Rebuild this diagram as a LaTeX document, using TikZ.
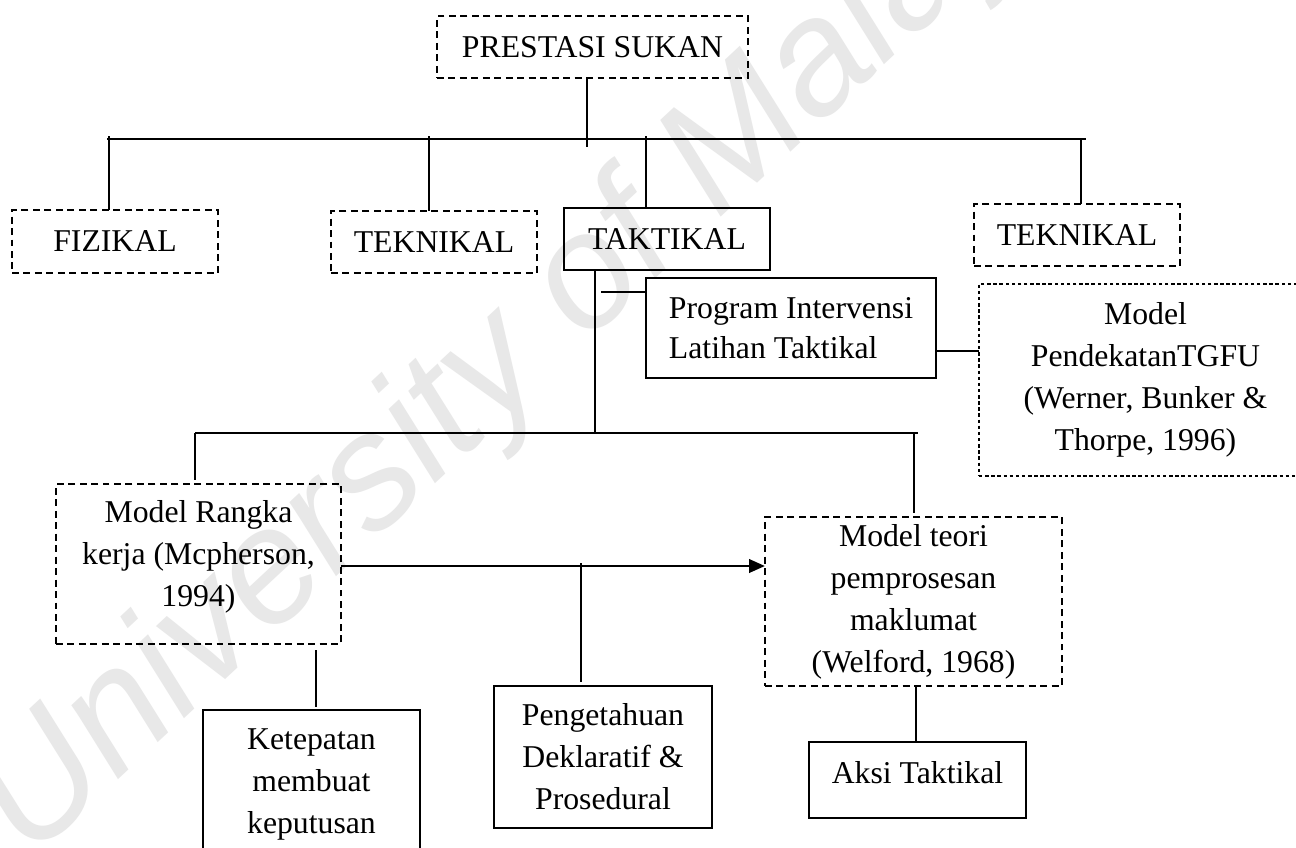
\documentclass[tikz,border=0pt]{standalone}
\usepackage{fontspec}
\setmainfont{Liberation Serif}
\setsansfont{Liberation Sans}
\usetikzlibrary{arrows.meta}

\tikzset{
  every node/.style={font=\fontsize{23.8pt}{31.5pt}\selectfont},
  sz/.style 2 args={minimum width=#1*0.75pt, minimum height=#2*0.75pt},
  boxbase/.style={inner sep=0pt, outer sep=0pt, align=center},
  dbox/.style={boxbase, draw, line width=1.4pt, dash pattern=on 5.2pt off 3.4pt},
  fbox/.style={boxbase, draw, line width=0.9pt, dash pattern=on 2.6pt off 2pt},
  sbox/.style={boxbase, draw, line width=1.4pt},
  link/.style={line width=1.1pt},
  bus/.style={line width=1.5pt},
  flow/.style={line width=2.2pt, -{Triangle[length=12pt,width=10pt]}},
  wmtext/.style={text=black!9, font=\fontsize{122pt}{122pt}\selectfont\sffamily\itshape}
}

\begin{document}
\begin{tikzpicture}[x=0.75pt,y=-0.75pt]
\useasboundingbox (0,0) rectangle (1296,847);
\clip (0,0) rectangle (1296,847);
\fill[white] (0,0) rectangle (1296,847);

% watermark
\node[wmtext, rotate=43, anchor=base west, inner sep=0pt] (wm) at (30,862) {University of Malaya};

% top level
\node[dbox, sz={311}{62}] (ps) at (592.5,47) {PRESTASI SUKAN};

\node[dbox, sz={206}{63}] (fiz)  at (115,241.5) {FIZIKAL};
\node[dbox, sz={206}{62}] (tek1) at (434,242) {TEKNIKAL};
\node[sbox, sz={206}{62}] (tak)  at (667,239) {TAKTIKAL};
\node[dbox, sz={206}{62}] (tek2) at (1077,235) {TEKNIKAL};

\node[sbox, sz={290}{100}, align=left,
      font=\fontsize{23.8pt}{30pt}\selectfont] (prog) at (791,328)
  {Program Intervensi\\Latihan Taktikal};
\node[fbox, sz={333}{192}] (tgfu) at (1145.5,380)
  {Model\\PendekatanTGFU\\(Werner, Bunker \&\\Thorpe, 1996)};

\node[dbox, sz={285}{160}, text depth=16pt] (rangka) at (198.5,564)
  {Model Rangka\\kerja (Mcpherson,\\1994)};
\node[dbox, sz={297}{169}] (welf) at (913.5,601.5)
  {Model teori\\pemprosesan\\maklumat\\(Welford, 1968)};

\node[sbox, sz={217}{148}] (ket) at (311.5,784) {Ketepatan\\membuat\\keputusan};
\node[sbox, sz={218}{142}] (pen) at (603,757) {Pengetahuan\\Deklaratif \&\\Prosedural};
\node[sbox, line width=1pt, sz={217}{76}, text depth=12pt] (aksi) at (917.5,780) {Aksi Taktikal};

% upper bus
\coordinate (busL) at (107,139);
\coordinate (busR) at (1086,139);
\coordinate (d0) at (587,147);
\coordinate (d1) at (109,136);
\coordinate (d2) at (429,136);
\coordinate (d3) at (646,136);
\coordinate (d4) at (1081,139);
\draw[bus] (busL) -- (busR);
\draw[link] (ps.south -| d0) -- (d0);
\draw[link] (d1) -- (d1 |- fiz.north);
\draw[link] (d2) -- (d2 |- tek1.north);
\draw[link] (d3) -- (d3 |- tak.north);
\draw[link] (d4) -- (d4 |- tek2.north);

% lower bus under TAKTIKAL
\coordinate (j) at (595,433);
\coordinate (lbL) at (195,433);
\coordinate (lbR) at (918,433);
\coordinate (s1) at (601,292);
\coordinate (s2) at (0,351);
\draw[link] (tak.south -| j) -- (j);
\draw[link] (s1) -- (s1 -| prog.west);
\draw[link] (prog.east |- s2) -- (tgfu.west |- s2);
\draw[bus] (lbL) -- (lbR);
\coordinate (r1) at (195,480);
\draw[link] (lbL) -- (r1);
\coordinate (w1) at (914,433);
\coordinate (w2) at (914,513);
\draw[link] (w1) -- (w2);

% arrow and lower links
\coordinate (a1) at (0,566);
\draw[flow] (rangka.east |- a1) -- (welf.west |- a1);
\coordinate (p1) at (581,563);
\coordinate (p2) at (581,682);
\draw[link] (p1) -- (p2);
\coordinate (k1) at (316,650);
\coordinate (k2) at (316,707);
\draw[link] (k1) -- (k2);
\coordinate (x1) at (916,0);
\draw[link] (welf.south -| x1) -- (aksi.north -| x1);
\end{tikzpicture}
\end{document}
